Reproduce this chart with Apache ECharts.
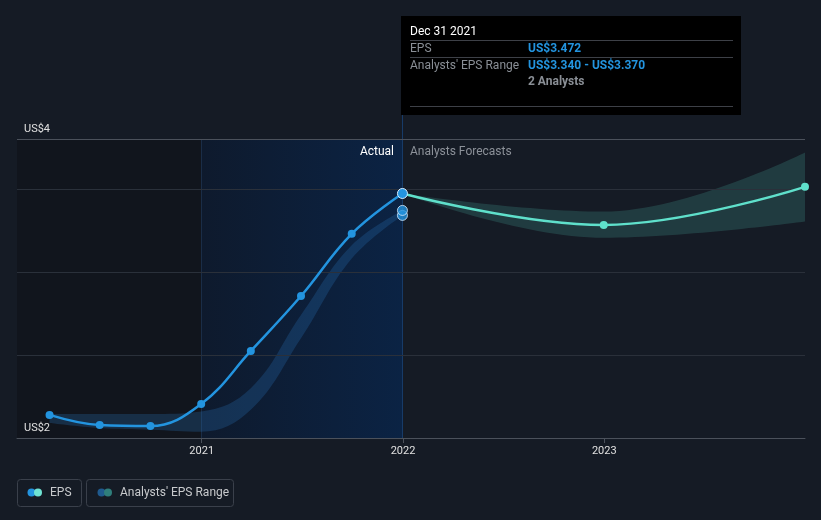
<!DOCTYPE html>
<html>
<head>
<meta charset="utf-8">
<script src="https://cdn.jsdelivr.net/npm/echarts@6/dist/echarts.min.js"></script>
<style>
html,body{margin:0;padding:0;background:#151b25;}
#chart{width:821px;height:520px;}
</style>
</head>
<body>
<div id="chart"></div>
<script>
// ---- data ----
const histDates = ['2020-03-31','2020-06-30','2020-09-30','2020-12-31','2021-03-31','2021-06-30','2021-09-30','2021-12-31'];
const epsActual = [2.139, 2.078, 2.072, 2.205, 2.524, 2.855, 3.229, 3.472];
const histRangeLow = [2.09, 2.06, 2.05, 2.038, 2.17, 2.60, 3.08, 3.34];
const histRangeHigh = [2.145, 2.145, 2.145, 2.16, 2.30, 2.74, 3.16, 3.37];
const fcDates = ['2021-12-31','2022-12-31','2023-12-31'];
const epsForecast = [3.472, 3.283, 3.512];
const fcRangeLow = [3.472, 3.205, 3.303];
const fcRangeHigh = [3.472, 3.363, 3.719];
const lastRangeDate = '2021-12-31';
const lastRange = [3.34, 3.37];
const xTickYears = [2021, 2022, 2023];
const yTickValues = [2, 3.8];
const yTickLabels = ['US$2','US$4'];
const tipTitle = 'Dec 31 2021';
const tipEps = 'US$3.472';
const tipRange = 'US$3.340 - US$3.370';
const tipAnalysts = '2 Analysts';

const BLUE = '#2394df';
const TEAL = '#5fe0cb';
const FONT = 'Roboto, "Noto Sans", sans-serif';

const chart = echarts.init(document.getElementById('chart'), null, {renderer:'canvas'});

const pairs = (xs, ys) => xs.map((x,i)=>[x, ys[i]]);
const diffs = (xs, lo, hi) => xs.map((x,i)=>[x, +(hi[i]-lo[i]).toFixed(4)]);
const YEAR_MS = 365 * 24 * 3600 * 1000;

const option = {
  backgroundColor: '#151b25',
  animation: false,
  textStyle: {fontFamily: FONT},
  grid: {left: 17, right: 16, top: 139, bottom: 82},
  xAxis: {
    type: 'time',
    min: '2020-02-01',
    max: '2023-12-31',
    minInterval: YEAR_MS,
    splitNumber: 4,
    z: 3,
    axisLine: {show: true, lineStyle: {color: '#4b515b', width: 1}},
    axisTick: {show: true, length: 5, lineStyle: {color: '#4b515b'}},
    axisLabel: {
      color: '#e0e0e0', fontSize: 11, margin: 8, fontFamily: FONT,
      showMinLabel: false, showMaxLabel: false,
      formatter: function (v) {
        const d = new Date(v);
        const y = d.getFullYear();
        return (d.getMonth() === 0 && d.getDate() === 1 && xTickYears.indexOf(y) >= 0) ? String(y) : '';
      }
    },
    splitLine: {show: false}
  },
  yAxis: {
    type: 'value',
    min: 2, max: 3.8, interval: 0.5,
    z: 3,
    axisLine: {show: false},
    axisTick: {show: false},
    axisLabel: {
      inside: true, color: '#e0e0e0', fontSize: 11, fontFamily: FONT,
      margin: 7, verticalAlign: 'bottom', padding: [0,0,4,0],
      customValues: yTickValues,
      formatter: v => yTickLabels[yTickValues.indexOf(v)] || ''
    },
    splitLine: {show: true, lineStyle: {color: ['#4b515b','#2a303a','#2a303a','#2a303a','#4b515b'], width: 1}}
  },
  series: [
    {
      name: 'histLow', type: 'line', stack: 'hist', smooth: 0.4, symbol: 'none',
      lineStyle: {opacity: 0}, data: pairs(histDates, histRangeLow), z: 2,
      markArea: {
        silent: true, z: 1,
        data: [
          [{xAxis: '2020-02-01', itemStyle: {color: '#11151d'}}, {xAxis: '2021-01-01'}],
          [{xAxis: '2021-01-01', itemStyle: {color: {type:'linear', x:0, y:0, x2:1, y2:0,
            colorStops: [{offset:0, color:'#0e1a2d'},{offset:1, color:'#0b2344'}]}}}, {xAxis: '2021-12-31'}]
        ]
      },
      markLine: {
        silent: true, symbol: 'none', label: {show: false}, z: 2,
        data: [
          {xAxis: '2021-01-01', lineStyle: {color: 'rgba(45,85,140,0.35)', width: 1, type: 'solid'}},
          {xAxis: '2021-12-31', lineStyle: {color: '#173b68', width: 1, type: 'solid'}}
        ]
      }
    },
    {
      name: 'histRange', type: 'line', stack: 'hist', smooth: 0.4, symbol: 'none',
      lineStyle: {opacity: 0}, areaStyle: {color: 'rgba(40,110,180,0.4)'},
      data: diffs(histDates, histRangeLow, histRangeHigh), z: 2
    },
    {
      name: 'fcLow', type: 'line', stack: 'fc', smooth: 0.4, symbol: 'none',
      lineStyle: {opacity: 0}, data: pairs(fcDates, fcRangeLow), z: 2
    },
    {
      name: 'fcRange', type: 'line', stack: 'fc', smooth: 0.4, symbol: 'none',
      lineStyle: {opacity: 0}, areaStyle: {color: 'rgba(70,160,150,0.35)'},
      data: diffs(fcDates, fcRangeLow, fcRangeHigh), z: 2
    },
    {
      name: 'EPS forecast', type: 'line', smooth: 0.4,
      symbol: 'circle', symbolSize: 8,
      showSymbol: true,
      lineStyle: {color: TEAL, width: 2.5}, itemStyle: {color: TEAL},
      data: pairs(fcDates, epsForecast).map((p,i)=> i===0 ? {value:p, symbolSize:0} : p),
      z: 4
    },
    {
      name: 'EPS', type: 'line', smooth: 0.4,
      symbol: 'circle', symbolSize: 8,
      lineStyle: {color: BLUE, width: 2.5}, itemStyle: {color: BLUE},
      data: pairs(histDates, epsActual).map((p,i,a)=> i===a.length-1 ?
        {value:p, symbolSize: 10, itemStyle:{color: BLUE, borderColor:'#d8ecff', borderWidth:1}} : p),
      z: 5
    },
    {
      name: 'Range ends', type: 'scatter', symbol: 'circle', symbolSize: 10,
      itemStyle: {color: BLUE, borderColor: '#d8ecff', borderWidth: 1},
      data: lastRange.map(v => [lastRangeDate, v]), z: 6
    }
  ],
  graphic: [
    {type:'line', z:10, shape:{x1:402.5, y1:115, x2:402.5, y2:139}, style:{stroke:'#173b68', lineWidth:1}, silent:true},
    {type:'text', z:10, x:394, y:152, style:{text:'Actual', fill:'#ffffff', font:'12px '+FONT, align:'right', verticalAlign:'middle'}},
    {type:'text', z:10, x:410, y:152, style:{text:'Analysts Forecasts', fill:'#8c9199', font:'12px '+FONT, align:'left', verticalAlign:'middle'}},
    {type:'rect', shape:{x:401, y:16, width:340, height:99}, style:{fill:'#000000'}, z:100},
    {type:'text', x:410, y:32, z:101, style:{text:tipTitle, fill:'#ffffff', font:'12px '+FONT, verticalAlign:'middle'}},
    {type:'line', z:101, shape:{x1:410, y1:40.5, x2:733, y2:40.5}, style:{stroke:'#3d4047', lineWidth:1}},
    {type:'text', x:410, y:49, z:101, style:{text:'EPS', fill:'#8a8f96', font:'12px '+FONT, verticalAlign:'middle'}},
    {type:'text', x:528, y:49, z:101, style:{text:tipEps, fill:BLUE, font:'bold 12px '+FONT, verticalAlign:'middle'}},
    {type:'line', z:101, shape:{x1:410, y1:57.5, x2:733, y2:57.5}, style:{stroke:'#3d4047', lineWidth:1}},
    {type:'text', x:410, y:66, z:101, style:{text:"Analysts' EPS Range", fill:'#8a8f96', font:'12px '+FONT, verticalAlign:'middle'}},
    {type:'text', x:528, y:66, z:101, style:{text:tipRange, fill:BLUE, font:'bold 12px '+FONT, verticalAlign:'middle'}},
    {type:'text', x:528, y:82, z:101, style:{text:tipAnalysts, fill:'#8a8f96', font:'bold 12px '+FONT, verticalAlign:'middle'}},
    {type:'line', z:101, shape:{x1:410, y1:106.5, x2:733, y2:106.5}, style:{stroke:'#3d4047', lineWidth:1}},
    {type:'rect', shape:{x:17.5, y:479.5, width:64, height:27, r:3}, style:{fill:'none', stroke:'#3a404b', lineWidth:1}},
    {type:'circle', shape:{cx:31.5, cy:492.5, r:4}, style:{fill:BLUE}},
    {type:'circle', shape:{cx:38, cy:492.5, r:4}, style:{fill:'#6fe3d3'}},
    {type:'text', x:50, y:493, style:{text:'EPS', fill:'#c8cacd', font:'12px '+FONT, verticalAlign:'middle'}},
    {type:'rect', shape:{x:86.5, y:479.5, width:147, height:27, r:3}, style:{fill:'none', stroke:'#3a404b', lineWidth:1}},
    {type:'circle', shape:{cx:101.5, cy:492.5, r:4}, style:{fill:'#1f5a8e'}},
    {type:'circle', shape:{cx:108, cy:492.5, r:4}, style:{fill:'#2f7e7b'}},
    {type:'text', x:120, y:493, style:{text:"Analysts' EPS Range", fill:'#c8cacd', font:'12px '+FONT, verticalAlign:'middle'}}
  ]
};
chart.setOption(option);
</script>
</body>
</html>
